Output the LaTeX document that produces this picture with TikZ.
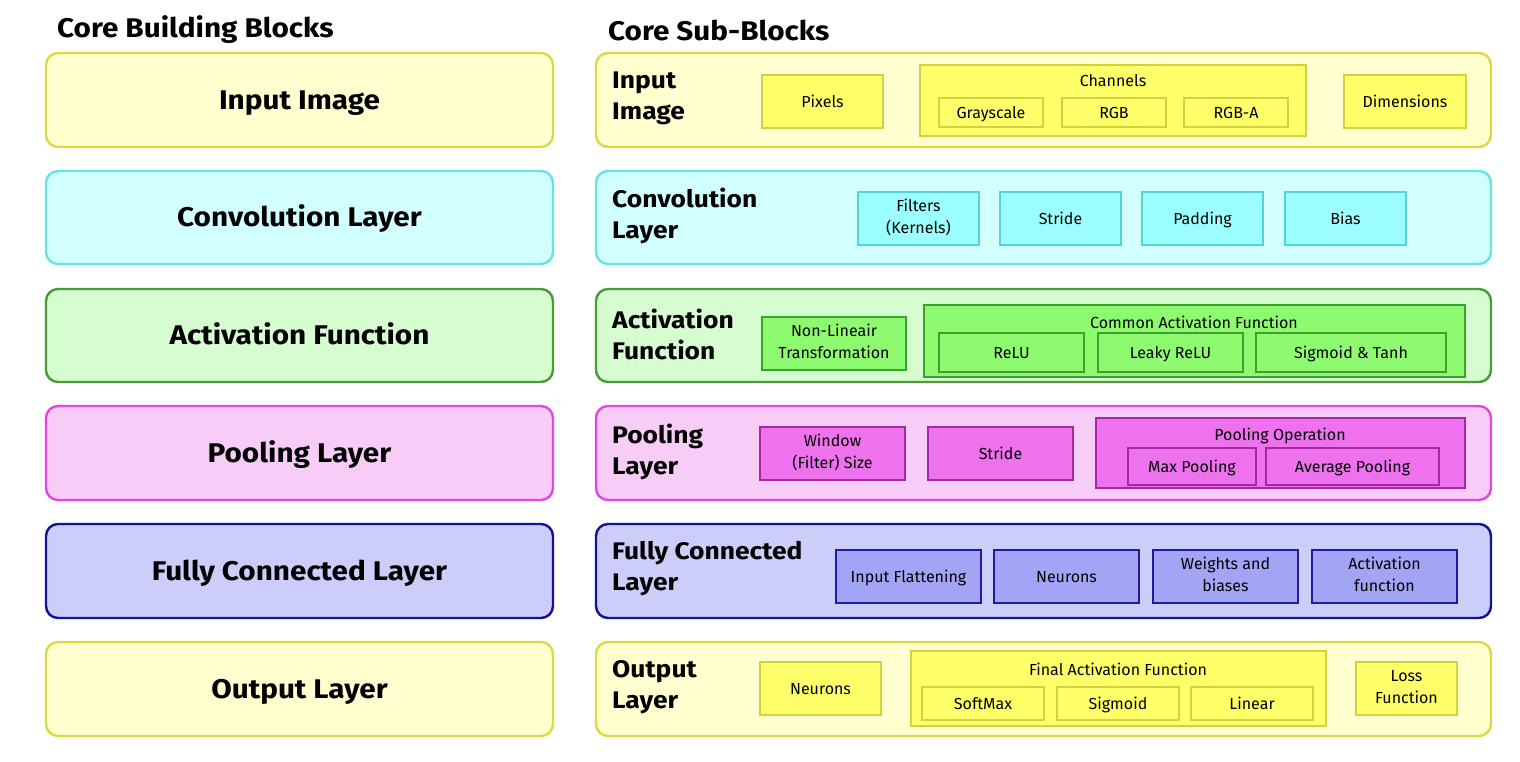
\documentclass[tikz,border=0pt]{standalone}
\usepackage{fontspec}
\setmainfont{Fira Sans}[BoldFeatures={FakeStretch=1.1}]
\definecolor{yL}{HTML}{FFFFD0}\definecolor{yB}{HTML}{DADA45}\definecolor{yI}{HTML}{FFFF6A}\definecolor{yIB}{HTML}{D2D240}
\definecolor{cL}{HTML}{D2FFFF}\definecolor{cB}{HTML}{66E4E4}\definecolor{cI}{HTML}{9BFFFF}\definecolor{cIB}{HTML}{55D4D4}
\definecolor{gL}{HTML}{D6FDD0}\definecolor{gB}{HTML}{4C9A38}\definecolor{gI}{HTML}{8DFA70}\definecolor{gIB}{HTML}{3FA02E}
\definecolor{pL}{HTML}{F7CDF7}\definecolor{pB}{HTML}{E545E5}\definecolor{pI}{HTML}{EE72EE}\definecolor{pIB}{HTML}{A428A4}
\definecolor{bL}{HTML}{CDCDFA}\definecolor{bB}{HTML}{12129A}\definecolor{bI}{HTML}{A4A4F6}\definecolor{bIB}{HTML}{1C1CA0}
\newcommand\bx[7]{\node[#2, minimum width={#5-#3}, minimum height={#6-#4}] (#1) at ({(#3+#5)/2},{(#4+#6)/2}) {#7};}
\newcommand\smstr{\rule[-4pt]{0pt}{20.4pt}}
\newcommand\bigstr{\rule[-7pt]{0pt}{32.6pt}}
\tikzset{
  base/.style={rectangle, inner sep=0pt, outer sep=0pt, align=center},
  outer/.style={base, rounded corners=12pt, line width=2.4pt},
  inner/.style={base, line width=2pt, font=\fontsize{16}{22}\selectfont,
    execute at begin node=\smstr, execute at end node=\smstr},
  bigtxt/.style={font=\fontsize{27}{30}\selectfont\bfseries, execute at begin node=\bigstr},
  rowlab/.style={anchor=west, align=left, inner sep=0pt, font=\fontsize{24}{31}\selectfont\bfseries},
  ttl/.style={anchor=west, inner sep=0pt, font=\fontsize{27}{30}\selectfont\bfseries},
  grp/.style={font=\fontsize{16}{18}\selectfont, inner sep=0pt},
  Y/.style={fill=yL, draw=yB}, YI/.style={fill=yI, draw=yIB},
  C/.style={fill=cL, draw=cB}, CI/.style={fill=cI, draw=cIB},
  G/.style={fill=gL, draw=gB}, GI/.style={fill=gI, draw=gIB},
  P/.style={fill=pL, draw=pB}, PI/.style={fill=pI, draw=pIB},
  B/.style={fill=bL, draw=bB}, BI/.style={fill=bI, draw=bIB},
}
\begin{document}
\begin{tikzpicture}[x=1pt,y=-1pt]
\useasboundingbox[fill=white] (0,0) rectangle (1520,762);
\node[ttl] (t1) at (57,30) {Core Building Blocks};
\node[ttl] (t2) at (608,30) {Core Sub-Blocks};
% left column
\bx{l1}{outer,Y,bigtxt}{46}{53}{553}{147}{Input Image}
\bx{l2}{outer,C,bigtxt}{46}{171}{553}{264}{Convolution Layer}
\bx{l3}{outer,G,bigtxt}{46}{289}{553}{382}{Activation Function}
\bx{l4}{outer,P,bigtxt}{46}{406}{553}{500}{Pooling Layer}
\bx{l5}{outer,B,bigtxt}{46}{524}{553}{618}{Fully Connected Layer}
\bx{l6}{outer,Y,bigtxt}{46}{642}{553}{736}{Output Layer}
% right column
\bx{r1}{outer,Y}{596}{53}{1491}{147}{}
\bx{r2}{outer,C}{596}{171}{1491}{264}{}
\bx{r3}{outer,G}{596}{289}{1491}{382}{}
\bx{r4}{outer,P}{596}{406}{1491}{500}{}
\bx{r5}{outer,B}{596}{524}{1491}{618}{}
\bx{r6}{outer,Y}{596}{642}{1491}{736}{}
\node[rowlab] (r1l) at (612,98) {Input\\Image};
\node[rowlab] (r2l) at (612,216) {Convolution\\Layer};
\node[rowlab] (r3l) at (612,334) {Activation\\Function};
\node[rowlab] (r4l) at (612,452) {Pooling\\Layer};
\node[rowlab] (r5l) at (612,569) {Fully Connected\\Layer};
\node[rowlab] (r6l) at (612,687) {Output\\Layer};
% row 1
\bx{pix}{inner,YI}{762}{75}{883}{128}{Pixels}
\bx{chan}{inner,YI}{920}{65}{1306}{136}{}
\node[grp] (chanl) at (1113,81) {Channels};
\bx{gray}{inner,YI}{939}{98}{1043}{127}{Grayscale}
\bx{rgb}{inner,YI}{1062}{98}{1166}{127}{RGB}
\bx{rgba}{inner,YI}{1184}{98}{1288}{127}{RGB-A}
\bx{dim}{inner,YI}{1344}{75}{1466}{128}{Dimensions}
% row 2
\bx{filt}{inner,CI}{858}{192}{979}{245}{Filters\\(Kernels)}
\bx{cstr}{inner,CI}{1000}{192}{1121}{245}{Stride}
\bx{pad}{inner,CI}{1142}{192}{1263}{245}{Padding}
\bx{bias}{inner,CI}{1285}{192}{1406}{245}{Bias}
% row 3
\bx{nonlin}{inner,GI}{762}{317}{906}{370}{Non-Lineair\\Transformation}
\bx{common}{inner,GI}{924}{305}{1465}{377}{}
\node[grp] (commonl) at (1194,322) {Common Activation Function};
\bx{relu}{inner,GI}{939}{333}{1084}{372}{ReLU}
\bx{lrelu}{inner,GI}{1098}{333}{1243}{372}{Leaky ReLU}
\bx{sigt}{inner,GI}{1256}{333}{1446}{372}{Sigmoid \& Tanh}
% row 4
\bx{win}{inner,PI}{760}{427}{905}{480}{Window\\(Filter) Size}
\bx{pstr}{inner,PI}{928}{427}{1073}{480}{Stride}
\bx{pop}{inner,PI}{1096}{418}{1465}{488}{}
\node[grp] (popl) at (1280,436) {Pooling Operation};
\bx{maxp}{inner,PI}{1128}{448}{1256}{485}{Max Pooling}
\bx{avgp}{inner,PI}{1266}{448}{1439}{485}{Average Pooling}
% row 5
\bx{flat}{inner,BI}{836}{550}{981}{603}{Input Flattening}
\bx{fneu}{inner,BI}{994}{550}{1139}{603}{Neurons}
\bx{wb}{inner,BI}{1153}{550}{1298}{603}{Weights and\\biases}
\bx{actf}{inner,BI}{1312}{550}{1457}{603}{Activation\\function}
% row 6
\bx{oneu}{inner,YI}{760}{662}{881}{715}{Neurons}
\bx{fin}{inner,YI}{911}{651}{1326}{726}{}
\node[grp] (finl) at (1118,669) {Final Activation Function};
\bx{smax}{inner,YI}{922}{687}{1044}{720}{SoftMax}
\bx{sigm}{inner,YI}{1057}{687}{1179}{720}{Sigmoid}
\bx{lin}{inner,YI}{1191}{687}{1313}{720}{Linear}
\bx{loss}{inner,YI}{1356}{662}{1457}{715}{Loss\\Function}
\end{tikzpicture}
\end{document}
